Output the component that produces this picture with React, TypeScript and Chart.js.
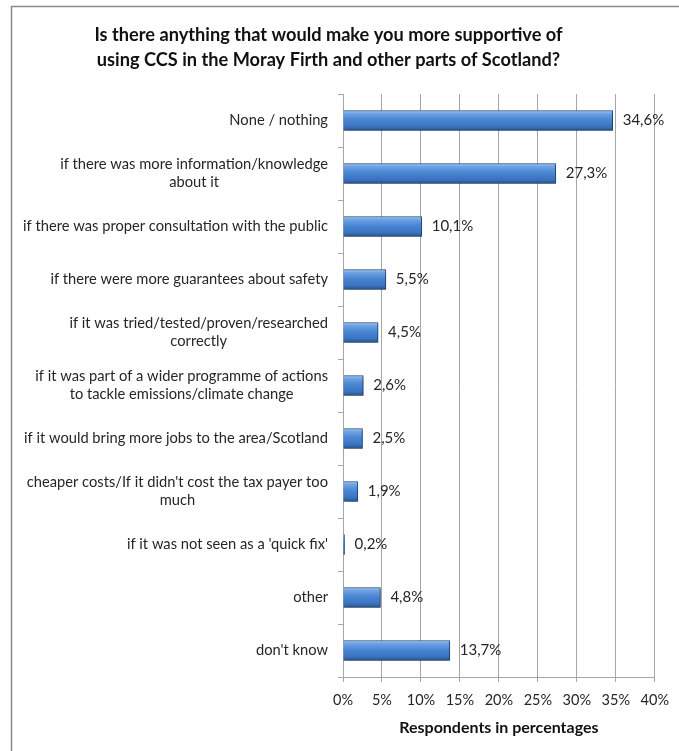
import React, { useEffect, useRef } from "react";
import { Chart, registerables } from "chart.js";

Chart.register(...registerables);

const TITLE_LINES = [
  "Is there anything that would make you more supportive of",
  "using CCS in the Moray Firth and other parts of Scotland?",
];

const CATEGORIES: string[][] = [
  ["None / nothing"],
  ["if there was more information/knowledge", "about it"],
  ["if there was proper consultation with the public"],
  ["if there were more guarantees about safety"],
  ["if it was tried/tested/proven/researched", "correctly"],
  ["if it was part of a wider programme of actions", "to tackle emissions/climate change"],
  ["if it would bring more jobs to the area/Scotland"],
  ["cheaper costs/If it didn't cost the tax payer too", "much"],
  ["if it was not seen as a 'quick fix'"],
  ["other"],
  ["don't know"],
];

const VALUES = [34.6, 27.3, 10.1, 5.5, 4.5, 2.6, 2.5, 1.9, 0.2, 4.8, 13.7];

const X_MIN = 0;
const X_MAX = 40;
const X_STEP = 5;
const X_TITLE = "Respondents in percentages";

const FONT = "Lato, 'Open Sans', sans-serif";

const fmt = (v: number) => v.toFixed(1).replace(".", ",") + "%";

export default function App() {
  const ref = useRef<HTMLCanvasElement | null>(null);

  useEffect(() => {
    const canvas = ref.current;
    if (!canvas) return;

    const framePlugin = {
      id: "frame",
      beforeDraw(chart: any) {
        const ctx = chart.ctx;
        ctx.save();
        ctx.fillStyle = "#ffffff";
        ctx.fillRect(0, 0, chart.width, chart.height);
        ctx.strokeStyle = "#8a8a8a";
        ctx.lineWidth = 1.5;
        ctx.strokeRect(11.5, 6.5, chart.width + 40, chart.height + 40);
        ctx.restore();
      },
    };

    const shadowPlugin = {
      id: "barShadow",
      beforeDatasetsDraw(chart: any) {
        const ctx = chart.ctx;
        ctx.save();
        ctx.shadowColor = "rgba(0,0,0,0.35)";
        ctx.shadowBlur = 3;
        ctx.shadowOffsetX = 1;
        ctx.shadowOffsetY = 2;
      },
      afterDatasetsDraw(chart: any) {
        chart.ctx.restore();
      },
    };

    const labelsPlugin = {
      id: "labels",
      afterDraw(chart: any) {
        const ctx = chart.ctx;
        const y = chart.scales.y;
        ctx.save();
        ctx.font = `14.7px ${FONT}`;
        ctx.fillStyle = "#262626";
        ctx.textAlign = "center";
        ctx.textBaseline = "middle";
        const rightEdge = y.right - 15;
        const lh = 18.5;
        CATEGORIES.forEach((lines, i) => {
          const cy = y.getPixelForValue(i);
          const w = Math.max(...lines.map((l) => ctx.measureText(l).width));
          const cx = rightEdge - w / 2;
          const y0 = cy - ((lines.length - 1) * lh) / 2;
          lines.forEach((l, j) => ctx.fillText(l, cx, y0 + j * lh));
        });
        ctx.font = `15px ${FONT}`;
        ctx.textAlign = "left";
        const meta = chart.getDatasetMeta(0);
        meta.data.forEach((bar: any, i: number) => {
          ctx.fillText(fmt(VALUES[i]), bar.x + 10, bar.y);
        });
        ctx.restore();
      },
    };

    const chart = new Chart(canvas, {
      type: "bar",
      data: {
        labels: CATEGORIES.map((c) => c.join(" ")),
        datasets: [
          {
            data: VALUES,
            barThickness: 20,
            borderWidth: 1,
            borderColor: "#234f88",
            borderSkipped: "start",
            backgroundColor: (ctx: any) => {
              const c = ctx.chart;
              const ys = c.scales && c.scales.y;
              if (!ys || ctx.dataIndex === undefined) return "#4a86d0";
              const cy = ys.getPixelForValue(ctx.dataIndex);
              if (!isFinite(cy)) return "#4a86d0";
              const g = c.ctx.createLinearGradient(0, cy - 10, 0, cy + 10);
              g.addColorStop(0, "#a9c9f0");
              g.addColorStop(0.15, "#6fa3e4");
              g.addColorStop(0.45, "#4a86d2");
              g.addColorStop(0.8, "#3a74c0");
              g.addColorStop(1, "#24548f");
              return g;
            },
          },
        ],
      },
      options: {
        indexAxis: "y",
        responsive: false,
        animation: false,
        layout: { padding: { left: 0, right: 22, top: 0, bottom: 0 } },
        plugins: {
          legend: { display: false },
          tooltip: { enabled: false },
          title: {
            display: true,
            text: TITLE_LINES,
            color: "#111111",
            font: { family: FONT, size: 18.2, weight: "bold", lineHeight: 25 / 18.2 },
            padding: { top: 23, bottom: 21 },
          },
        },
        scales: {
          x: {
            min: X_MIN,
            max: X_MAX,
            afterFit(axis: any) {
              axis.height = 74;
            },
            ticks: {
              stepSize: X_STEP,
              color: "#262626",
              font: { family: FONT, size: 14.5 },
              padding: 10,
              callback: (v: any) => v + "%",
            },
            grid: {
              color: "#a6a6a6",
              lineWidth: 1,
              drawTicks: true,
              tickLength: 5,
            },
            border: { color: "#a6a6a6" },
            title: {
              display: true,
              text: X_TITLE,
              color: "#111111",
              font: { family: FONT, size: 16, weight: "bold" },
              padding: { top: 4, bottom: 14 },
            },
          },
          y: {
            afterFit(axis: any) {
              axis.width = 343;
            },
            ticks: { display: false },
            grid: {
              drawOnChartArea: false,
              drawTicks: true,
              tickLength: 5,
              color: "#a6a6a6",
              offset: true,
            },
            border: { color: "#a6a6a6" },
          },
        },
      },
      plugins: [framePlugin, shadowPlugin, labelsPlugin],
    } as any);

    return () => chart.destroy();
  }, []);

  return (
    <div style={{ position: "fixed", left: 0, top: 0, width: 679, height: 751 }}>
      <canvas ref={ref} width={679} height={751} />
    </div>
  );
}
